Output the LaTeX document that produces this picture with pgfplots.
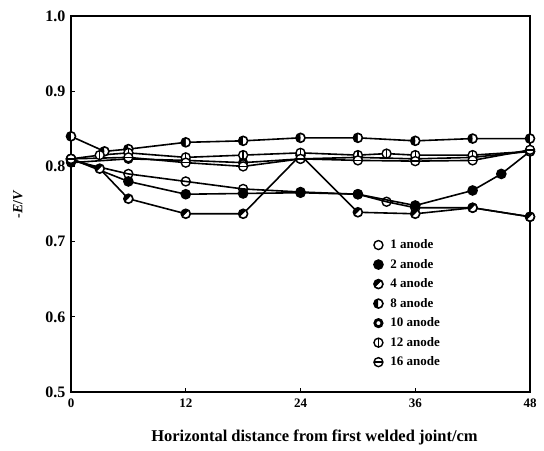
\documentclass[border=0pt]{standalone}
\usepackage{fontspec}
\setmainfont{Liberation Serif}
\usepackage{pgfplots}
\pgfplotsset{compat=1.18}
\usetikzlibrary{plotmarks}

% circle with a vertical bar, circle with a horizontal bar
\pgfdeclareplotmark{ovbar}{%
  \pgfpathcircle{\pgfpointorigin}{\pgfplotmarksize}\pgfusepathqfillstroke
  \pgfpathmoveto{\pgfqpoint{0pt}{-\pgfplotmarksize}}%
  \pgfpathlineto{\pgfqpoint{0pt}{\pgfplotmarksize}}\pgfusepathqstroke}
\pgfdeclareplotmark{ohbar}{%
  \pgfpathcircle{\pgfpointorigin}{\pgfplotmarksize}\pgfusepathqfillstroke
  \pgfpathmoveto{\pgfqpoint{-\pgfplotmarksize}{0pt}}%
  \pgfpathlineto{\pgfqpoint{\pgfplotmarksize}{0pt}}\pgfusepathqstroke}

\begin{document}
\begin{tikzpicture}
\begin{axis}[
  scale only axis,
  width=459pt, height=376pt,
  xmin=0, xmax=48, ymin=0.5, ymax=1.0,
  xtick={0,12,24,36,48},
  ytick={0.5,0.6,0.7,0.8,0.9,1.0},
  yticklabel style={/pgf/number format/fixed,/pgf/number format/fixed zerofill,/pgf/number format/precision=1},
  /pgf/number format/assume math mode=true,
  tick align=inside, xtick pos=bottom, ytick pos=left,
  major tick length=4pt,
  axis line style={line width=1.6pt},
  tick style={line width=1.2pt, black},
  xticklabel style={font=\fontsize{13}{15}\selectfont\bfseries, yshift=-3pt},
  yticklabel style={font=\fontsize{16}{18}\selectfont\bfseries, xshift=-2pt},
  xlabel={Horizontal distance from first welded joint/cm},
  ylabel={-\textit{E}/\textit{V}},
  xlabel style={font=\fontsize{16.5}{18}\selectfont\bfseries, yshift=-16pt, xshift=14pt},
  ylabel style={font=\fontsize{14}{16}\selectfont\bfseries, yshift=16pt},
  clip=false,
  every axis plot/.append style={black, line width=1.6pt, mark size=4.5pt,
    mark options={solid, line width=1.4pt, fill=white}},
  legend style={at={(axis cs:31.3,0.708)}, anchor=north west, draw=none, fill=none,
    font=\fontsize{13}{15}\selectfont\bfseries, row sep=5pt,
    nodes={inner xsep=7pt}},
  legend cell align=left,
  legend image code/.code={\draw[#1, only marks] plot coordinates {(0.28cm,0cm)};},
]
% 1 anode
\addplot[mark=o] coordinates {
  (0,0.808) (6,0.79) (12,0.78) (18,0.77) (24,0.766) (30,0.763)
  (33,0.753) (36,0.745) (42,0.745) (48,0.733)};
\addlegendentry{1 anode}
% 2 anode
\addplot[mark=*, mark options={solid, fill=black}] coordinates {
  (0,0.81) (6,0.78) (12,0.763) (18,0.764) (24,0.765) (30,0.763)
  (36,0.748) (42,0.768) (45,0.79) (48,0.82)};
\addlegendentry{2 anode}
% 4 anode
\addplot[mark=halfcircle*, mark options={solid, fill=black, rotate=45}] coordinates {
  (0,0.81) (3,0.797) (6,0.757) (12,0.737) (18,0.737) (24,0.815)
  (30,0.739) (36,0.737) (42,0.745) (48,0.733)};
\addlegendentry{4 anode}
% 8 anode
\addplot[mark=halfcircle*, mark options={solid, fill=black, rotate=90}] coordinates {
  (0,0.84) (3.5,0.82) (6,0.823) (12,0.832) (18,0.834) (24,0.838)
  (30,0.838) (36,0.834) (42,0.837) (48,0.837)};
\addlegendentry{8 anode}
% 10 anode
\addplot[mark=o, mark size=3.6pt, mark options={solid, line width=2.8pt, fill=white}] coordinates {
  (0,0.805) (6,0.81) (12,0.808) (18,0.805) (24,0.81) (30,0.812)
  (36,0.81) (42,0.812) (48,0.82)};
\addlegendentry{10 anode}
% 12 anode
\addplot[mark=ovbar] coordinates {
  (0,0.81) (3,0.815) (6,0.818) (12,0.812) (18,0.815) (24,0.818)
  (30,0.815) (33,0.817) (36,0.815) (42,0.815) (48,0.82)};
\addlegendentry{12 anode}
% 16 anode
\addplot[mark=ohbar] coordinates {
  (0,0.81) (6,0.812) (12,0.805) (18,0.80) (24,0.81) (30,0.808)
  (36,0.807) (42,0.808) (48,0.822)};
\addlegendentry{16 anode}
\end{axis}
\pgfresetboundingbox
\path[use as bounding box] ([xshift=-71pt,yshift=-58pt]current axis.south west)
  rectangle ([xshift=14pt,yshift=16pt]current axis.north east);
\end{tikzpicture}
\end{document}
